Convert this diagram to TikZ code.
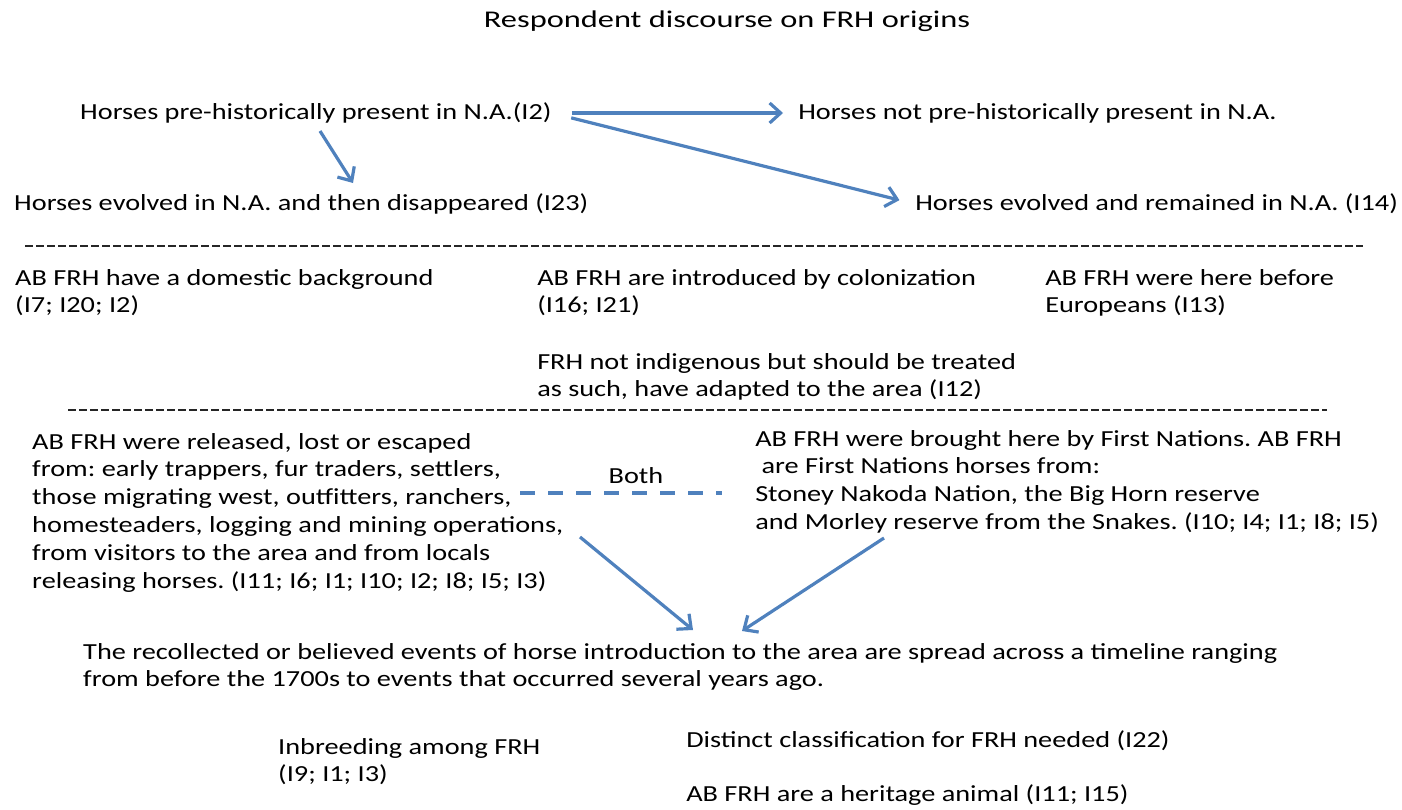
\documentclass[tikz,border=0pt]{standalone}
\usepackage{fontspec}
\setmainfont{Carlito}
\usetikzlibrary{arrows.meta}
\frenchspacing
\definecolor{arrowblue}{RGB}{79,129,189}
\tikzset{
  txt/.style={anchor=west, inner sep=0pt, align=left, xscale=1.23, transform shape,
    font=\fontsize{23}{27.8}\selectfont},
  arr/.style={draw=arrowblue, line width=3.2pt, -{Straight Barb[length=11pt,width=20pt,line width=3.2pt]}},
  rule/.style={draw=black!85, line width=2.2pt, dash pattern=on 8pt off 3pt},
  both/.style={draw=arrowblue, line width=3.6pt, dash pattern=on 15pt off 13pt},
}
\begin{document}
\begin{tikzpicture}[x=1pt,y=-1pt]
\useasboundingbox (0,0) rectangle (1402,809);

% title
\node[font=\fontsize{24}{28}\selectfont, inner sep=0pt, xscale=1.35, transform shape] (title) at (727,21) {Respondent discourse on FRH origins};

% prehistoric presence
\node[txt] (pre) at (80,113) {Horses pre-historically present in N.A.(I2)};
\node[txt] (notpre) at (798,113) {Horses not pre-historically present in N.A.};
\node[txt] (gone) at (14,204) {Horses evolved in N.A. and then disappeared (I23)};
\node[txt] (stay) at (915,204) {Horses evolved and remained in N.A. (I14)};

\draw[arr, shorten <=20pt, shorten >=15pt] (pre.east) -- (notpre.west);
\draw[arr, shorten <=20pt, shorten >=16pt] (pre.east) -- (stay.west);
\coordinate (a3s) at (320,131);
\coordinate (a3e) at (353,183);
\draw[arr] (a3s) -- (a3e);

% first separator
\coordinate (r1a) at (25,246);
\coordinate (r1b) at (1363,246);
\draw[rule] (r1a) -- (r1b);

% domestic / colonization / pre-European
\node[txt, anchor=north west] (dom) at (15,269) {AB FRH have a domestic background\\(I7; I20; I2)};
\node[txt, anchor=north west] (col) at (537,269) {AB FRH are introduced by colonization\\(I16; I21)};
\node[txt, anchor=north west] (eur) at (1045,269) {AB FRH were here before\\Europeans (I13)};
\node[txt, anchor=north west] (ind) at (537,353) {FRH not indigenous but should be treated\\as such, have adapted to the area (I12)};

% second separator
\coordinate (r2a) at (68,410);
\coordinate (r2b) at (1327,410);
\draw[rule] (r2a) -- (r2b);

% sources of the horses
\node[txt, anchor=north west] (rel) at (32,433) {AB FRH were released, lost or escaped\\from: early trappers, fur traders, settlers,\\those migrating west, outfitters, ranchers,\\homesteaders, logging and mining operations,\\from visitors to the area and from locals\\releasing horses. (I11; I6; I1; I10; I2; I8; I5; I3)};
\node[txt, anchor=north west] (fn) at (755,430) {AB FRH were brought here by First Nations. AB FRH\\\ are First Nations horses from:\\Stoney Nakoda Nation, the Big Horn reserve\\and Morley reserve from the Snakes. (I10; I4; I1; I8; I5)};

\node[txt, anchor=center] (bothlbl) at (636,476) {Both};
\coordinate (b1) at (520,493);
\coordinate (b2) at (722,493);
\draw[both] (b1) -- (b2);

% timeline
\node[txt, anchor=north west] (time) at (83,643) {The recollected or believed events of horse introduction to the area are spread across a timeline ranging\\from before the 1700s to events that occurred several years ago.};

\coordinate (a4s) at (580,537);
\coordinate (a4e) at (693,630);
\coordinate (a5s) at (884,538);
\coordinate (a5e) at (742,631);
\draw[arr] (a4s) -- (a4e);
\draw[arr] (a5s) -- (a5e);

% further remarks
\node[txt, anchor=north west] (inb) at (278,738) {Inbreeding among FRH\\(I9; I1; I3)};
\node[txt] (cls) at (686,741) {Distinct classification for FRH needed (I22)};
\node[txt] (her) at (686,795) {AB FRH are a heritage animal (I11; I15)};
\end{tikzpicture}
\end{document}
